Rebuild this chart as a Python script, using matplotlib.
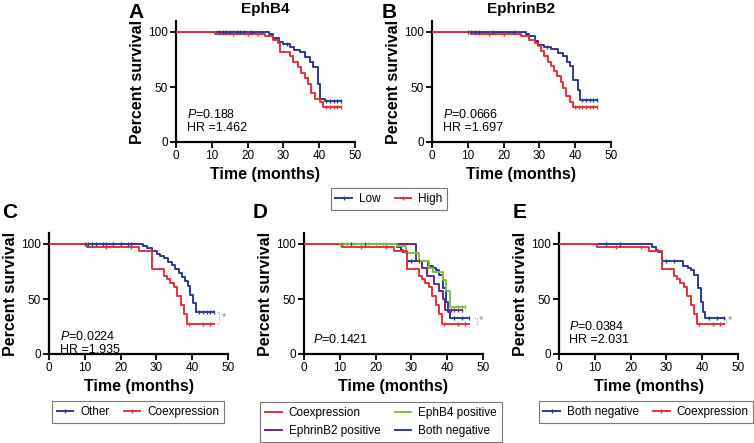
import numpy as np
import matplotlib.pyplot as plt
from matplotlib.lines import Line2D

plt.rcParams['font.family'] = ['Liberation Sans', 'DejaVu Sans']
plt.rcParams['mathtext.fontset'] = 'custom'
plt.rcParams['mathtext.it'] = 'Liberation Sans:italic'
plt.rcParams['mathtext.rm'] = 'Liberation Sans'

BLUE = '#2b3990'
RED = '#e8303a'
GREEN = '#7cc242'
PURPLE = '#6a2c7b'

# ---- survival data (step times in months, percent survival) ----
# A: EphB4
a_low_t = [0, 26, 27, 28.8, 30, 31.8, 33, 34.6, 36, 37.4, 38.3, 39.7, 40.3, 41.5]
a_low_s = [100, 98, 95, 91, 89, 86, 84, 82, 77, 73, 68, 53, 39, 37]
a_low_c = [12, 13, 14, 15, 16, 17, 18, 19, 21, 31, 42, 43, 44, 45, 46]
a_high_t = [0, 10.9, 24.8, 27.1, 28.5, 29, 31.8, 32.7, 34.1, 35, 36, 36.9, 37.8, 38.8, 40.1, 41]
a_high_s = [100, 98, 96, 93, 90, 82, 78, 73, 68, 63, 58, 53, 45, 39, 36, 32]
a_high_c = [16, 20, 23, 42, 43, 44, 45, 46]

# B: EphrinB2
b_low_t = [0, 26.3, 27.2, 28.8, 29.6, 31.4, 33.3, 35.2, 36.6, 37.6, 38.5, 39.4, 40.8, 41.3]
b_low_s = [100, 98, 96, 92, 88, 86, 85, 81, 78, 73, 69, 56, 47, 38]
b_low_c = [10, 11, 12, 13, 17, 23, 32, 42, 43, 44, 45, 46]
b_high_t = [0, 10.8, 24.9, 27.2, 28.8, 29.6, 30.5, 31.4, 32.4, 33.3, 34.2, 35, 35.9, 36.6, 37.5, 38.5, 39.4]
b_high_s = [100, 98, 96, 93, 90, 87, 83, 78, 73, 69, 65, 60, 55, 49, 42, 36, 32]
b_high_c = [16, 20, 40, 41, 42, 43, 44, 45, 46]

# C: Other vs Coexpression
c_oth_t = [0, 26.2, 27.3, 28.7, 30.1, 31, 32.1, 33.2, 34.3, 35.2, 36.2, 37.1, 38, 38.7, 39.4, 40.2, 41]
c_oth_s = [100, 98, 96, 94, 91, 89, 87, 84, 81, 77, 74, 70, 66, 62, 54, 46, 38]
c_oth_c = [10, 11, 12, 13, 15, 16, 18, 20, 22, 23, 42, 43, 44, 45, 46]
coex_t = [0, 10.5, 25, 28.9, 32, 32.9, 33.8, 34.8, 35.7, 36.8, 37.8, 38.5]
coex_s = [100, 97, 94, 77, 71, 68, 65, 61, 53, 45, 36, 27]
coex_c = [16, 23, 39, 43, 45]

# D: four groups (coexpression from above)
d_eph4_t = [0, 26, 28.4, 32.1, 34.9, 35.9, 38.7, 39.6, 40.8]
d_eph4_s = [100, 98, 92, 85, 78, 75, 67, 57, 43]
d_eph4_c = [10, 11, 12, 14, 16, 18, 20, 22, 23, 43, 44, 45]
d_efn2_t = [0, 31.2, 33, 34.4, 36.3, 37.7, 38.7, 39.3]
d_efn2_s = [100, 85, 78, 71, 64, 57, 50, 40]
d_efn2_c = [41, 42, 43, 44]

# E: Both negative vs Coexpression
e_neg_t = [0, 26.1, 27, 27.7, 28.9, 34.5, 35.9, 36.8, 37.8, 38.9, 39.6, 40.1, 40.7]
e_neg_s = [100, 97, 95, 93, 85, 80, 78, 76, 72, 60, 47, 38, 33]
e_neg_c = [13, 17, 30, 32, 42, 44, 46]
t_end = 46


def km(ax, t, s, cens, color, end=t_end):
    tt = list(t) + [end]
    ss = list(s) + [s[-1]]
    ax.step(tt, ss, where='post', color=color, lw=1.4, zorder=3)
    cens = np.array(cens, dtype=float)
    idx = np.searchsorted(t, cens, side='right') - 1
    ax.plot(cens, np.array(s)[idx], ls='none', marker='|', ms=3.5, mew=1.0, color=color, zorder=4)


def style(ax):
    ax.set_xlim(0, 50)
    ax.set_ylim(0, 110)
    ax.set_xticks([0, 10, 20, 30, 40, 50])
    ax.set_yticks([0, 50, 100])
    for sp in ['top', 'right']:
        ax.spines[sp].set_visible(False)
    for sp in ['left', 'bottom']:
        ax.spines[sp].set_linewidth(1.6)
    ax.tick_params(direction='out', length=4, width=1.3, labelsize=8.5, pad=2)
    ax.set_xlabel('Time (months)', fontsize=11.5, fontweight='bold', labelpad=3)
    ax.set_ylabel('Percent survival', fontsize=11.5, fontweight='bold', labelpad=2)


fig = plt.figure(figsize=(7.54, 4.43), dpi=100)
W, H = 754, 443


def mkax(left, y0):
    return fig.add_axes([left / W, (H - y0) / H, 179 / W, 121 / H])


axA = mkax(176, 142)
axB = mkax(432, 142)
axC = mkax(49, 354)
axD = mkax(304, 354)
axE = mkax(559, 354)

km(axA, a_low_t, a_low_s, a_low_c, BLUE)
km(axA, a_high_t, a_high_s, a_high_c, RED)
km(axB, b_low_t, b_low_s, b_low_c, BLUE)
km(axB, b_high_t, b_high_s, b_high_c, RED)
km(axC, c_oth_t, c_oth_s, c_oth_c, BLUE)
km(axC, coex_t, coex_s, coex_c, RED)
km(axD, e_neg_t, e_neg_s, e_neg_c, BLUE)
km(axD, d_efn2_t, d_efn2_s, d_efn2_c, PURPLE, end=44)
km(axD, d_eph4_t, d_eph4_s, d_eph4_c, GREEN, end=45)
km(axD, coex_t, coex_s, coex_c, RED)
km(axE, e_neg_t, e_neg_s, e_neg_c, BLUE)
km(axE, coex_t, coex_s, coex_c, RED)

for ax in [axA, axB, axC, axD, axE]:
    style(ax)

axA.set_title('EphB4', fontsize=11, fontweight='bold', pad=6)
axB.set_title('EphrinB2', fontsize=11, fontweight='bold', pad=6)

tkw = dict(fontsize=9, va='center', ha='left')
axA.text(3, 25, '$P$=0.188', **tkw)
axA.text(3, 12.5, 'HR =1.462', **tkw)
axB.text(3, 25, '$P$=0.0666', **tkw)
axB.text(3, 12.5, 'HR =1.697', **tkw)
axC.text(3, 16, '$P$=0.0224', **tkw)
axC.text(3, 4, 'HR =1.935', **tkw)
axD.text(2.6, 13, '$P$=0.1421', **tkw)
axE.text(2.7, 25, '$P$=0.0384', **tkw)
axE.text(2.7, 12.5, 'HR =2.031', **tkw)

# significance brackets
for ax, top, bot, xb, ys in [(axC, 38, 27, 47.6, 33.5), (axD, 33, 27, 48.2, 30.5), (axE, 33, 27, 46.6, 31)]:
    ax.plot([xb - 0.6, xb, xb, xb - 0.6], [top, top, bot, bot], color='#aaaaaa', lw=0.7, ls=(0, (1.5, 1.5)), clip_on=False)
    ax.text(xb + 0.6, ys, '*', color='#888888', fontsize=8, va='center', ha='left', clip_on=False)

# panel letters
for lab, x, y in [('A', 128, 12), ('B', 382, 12), ('C', 2, 212), ('D', 253, 212), ('E', 513, 212)]:
    fig.text(x / W, 1 - y / H, lab, fontsize=15, fontweight='bold', va='center', ha='left')


def h(color, mk=True):
    return Line2D([], [], color=color, lw=1.4, marker='|' if mk else None, ms=3, mew=1.0)


lkw = dict(fontsize=8.5, frameon=True, fancybox=False, edgecolor='#555555', handlelength=1.4,
           handletextpad=0.6, columnspacing=1.2, borderpad=0.4, borderaxespad=0)
legAB = fig.legend([h(BLUE), h(RED)], ['Low', 'High'], loc='center', bbox_to_anchor=(389 / W, 1 - 199 / H), ncol=2, **lkw)
legC = fig.legend([h(BLUE), h(RED)], ['Other', 'Coexpression'], loc='center', bbox_to_anchor=(138 / W, 1 - 412 / H), ncol=2, **lkw)
legD = fig.legend([h(RED, False), h(PURPLE, False), h(GREEN, False), h(BLUE, False)],
                  ['Coexpression', 'EphrinB2 positive', 'EphB4 positive', 'Both negative'],
                  loc='center', bbox_to_anchor=(381 / W, 1 - 422 / H), ncol=2, **lkw)
legE = fig.legend([h(BLUE), h(RED)], ['Both negative', 'Coexpression'], loc='center', bbox_to_anchor=(646 / W, 1 - 412 / H), ncol=2, **lkw)
for lg in [legAB, legC, legD, legE]:
    lg.get_frame().set_linewidth(0.8)

fig.savefig('out.png', dpi=100)
